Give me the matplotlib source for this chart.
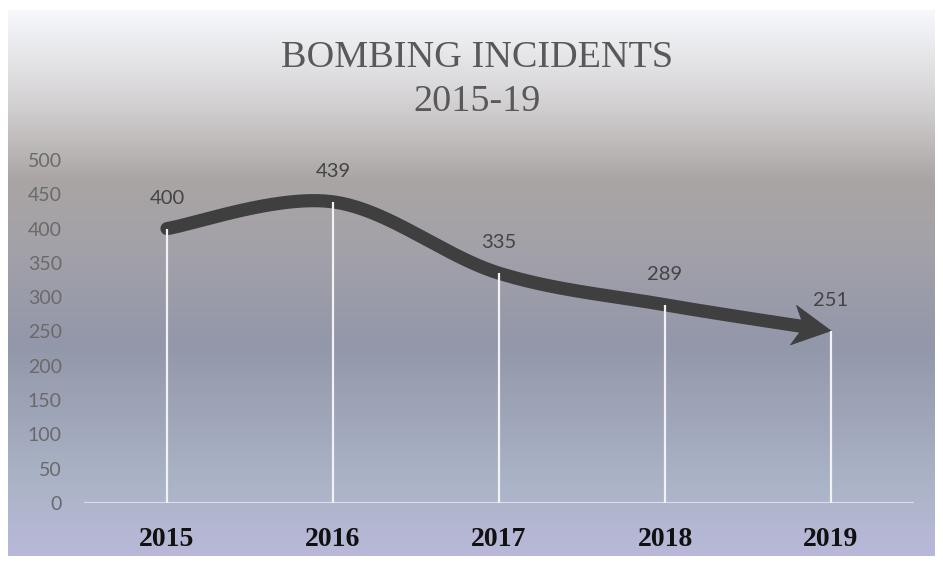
import numpy as np
import matplotlib
matplotlib.use("Agg")
import matplotlib.pyplot as plt
from matplotlib.colors import LinearSegmentedColormap
from matplotlib.patches import Polygon

# ---- data ----
years = ["2015", "2016", "2017", "2018", "2019"]
incidents = [400, 439, 335, 289, 251]
yticks = [0, 50, 100, 150, 200, 250, 300, 350, 400, 450, 500]
title_lines = ["BOMBING INCIDENTS", "2015-19"]

W, H = 943, 566
fig = plt.figure(figsize=(W / 100, H / 100), dpi=100)
fig.patch.set_facecolor("white")

# ---- gradient background of chart area ----
bx0, bx1, by0, by1 = 8, 935, 10, 556  # pixel box (top-left origin)
bg = fig.add_axes([bx0 / W, 1 - by1 / H, (bx1 - bx0) / W, (by1 - by0) / H], zorder=0)
stops = [(10, "#f6f8fb"), (60, "#e4e4e7"), (110, "#d0cdce"), (145, "#bdb9b9"),
         (180, "#aaa5a4"), (250, "#a3a1a9"), (345, "#9397aa"), (420, "#a0a6b9"),
         (480, "#aab3c6"), (525, "#b3b7d2"), (556, "#b9b8d9")]
cmap = LinearSegmentedColormap.from_list(
    "bg", [((p - by0) / (by1 - by0), c) for p, c in stops])
grad = np.linspace(0, 1, 512).reshape(-1, 1)
bg.imshow(grad, aspect="auto", cmap=cmap, extent=[0, 1, 1, 0], interpolation="bicubic")
bg.set_axis_off()

# ---- main axes ----
ax_l, ax_r, ax_t, ax_b = 84, 914, 160, 503
ax = fig.add_axes([ax_l / W, 1 - ax_b / H, (ax_r - ax_l) / W, (ax_b - ax_t) / H], zorder=1)
ax.set_facecolor("none")
ax.set_xlim(-0.5, len(years) - 0.5)
ax.set_ylim(0, 500)
for s in ax.spines.values():
    s.set_visible(False)
ax.set_yticks(yticks)
ax.set_yticklabels([str(v) for v in yticks], fontsize=14, color="#6a6a6a", family="Lato")
ax.set_xticks(range(len(years)))
ax.set_xticklabels(years, fontsize=20, fontweight="bold", color="#111111",
                   family="Liberation Serif")
ax.tick_params(axis="y", length=0, pad=16)
ax.tick_params(axis="x", length=0, pad=17)
ax.axhline(0, color="#dcdde2", lw=2.3, zorder=2, xmin=0, xmax=1)

# ---- smoothed curve (Catmull-Rom / Excel-like smoothing) ----
x = np.arange(len(years), dtype=float)
y = np.array(incidents, dtype=float)
P = np.column_stack([x, y])
Pext = np.vstack([P[0], P, P[-1]])
curve = []
t = np.linspace(0, 1, 80)
for i in range(len(P) - 1):
    p0, p1, p2, p3 = Pext[i], Pext[i + 1], Pext[i + 2], Pext[i + 3]
    b0 = p1
    b1 = p1 + (p2 - p0) / 6
    b2 = p2 - (p3 - p1) / 6
    b3 = p2
    seg = ((1 - t) ** 3)[:, None] * b0 + (3 * (1 - t) ** 2 * t)[:, None] * b1 \
        + (3 * (1 - t) * t ** 2)[:, None] * b2 + (t ** 3)[:, None] * b3
    curve.append(seg if i == 0 else seg[1:])
curve = np.vstack(curve)

# display-space arrowhead
disp = ax.transData.transform(curve)
tip = disp[-1]
L, HW = 38.0, 20.0
dist = np.hypot(*(disp - tip).T)
back_idx = np.where(dist >= L)[0][-1]
d = tip - disp[back_idx]
d = d / np.hypot(*d)
n = np.array([-d[1], d[0]])
base = tip - d * L
notch = tip - d * (L * 0.72)
head_disp = np.array([tip, base + n * HW, notch, base - n * HW])
head = ax.transData.inverted().transform(head_disp)

keep = dist >= L * 0.6
line_pts = curve[keep]
ax.plot(line_pts[:, 0], line_pts[:, 1], color="#3f3f3f", lw=9.5,
        solid_capstyle="round", zorder=3)
ax.add_patch(Polygon(head, closed=True, facecolor="#3f3f3f", edgecolor="#3f3f3f",
                     lw=0.5, zorder=3))

# drop lines
ax.vlines(x, 0, y, colors="#f2f2f4", lw=1.6, zorder=4)

# data labels
for xi, yi in zip(x, y):
    ax.annotate(str(int(yi)), (xi, yi), xytext=(0, 22), textcoords="offset points",
                ha="center", va="center", fontsize=14.5, color="#444444",
                family="Lato", zorder=5, annotation_clip=False)

# ---- title ----
fig.text(477 / W, 1 - 58 / H, title_lines[0], ha="center", va="center",
         fontsize=27.5, color="#595959", family="Liberation Serif")
fig.text(477 / W, 1 - 102 / H, title_lines[1], ha="center", va="center",
         fontsize=27.5, color="#595959", family="Liberation Serif")

fig.savefig("out.png", dpi=100)
